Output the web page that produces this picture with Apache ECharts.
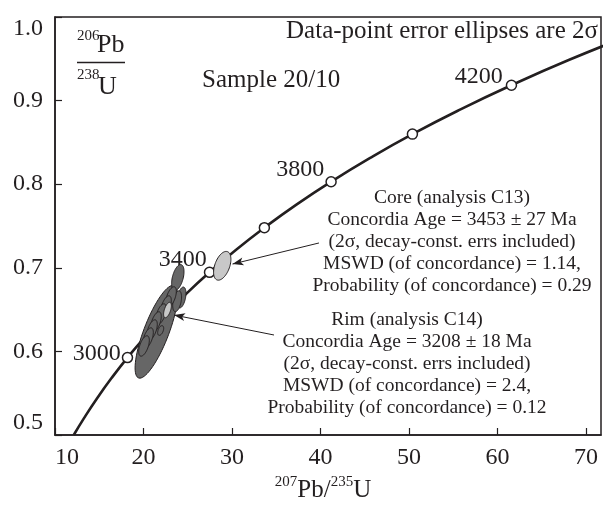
<!DOCTYPE html>
<html>
<head>
<meta charset="utf-8">
<script src="https://cdn.jsdelivr.net/npm/echarts@6/dist/echarts.min.js"></script>
<style>
html, body { margin: 0; padding: 0; background: #fff; }
#chart { width: 603px; height: 505px; }
</style>
</head>
<body>
<div id="chart"></div>
<script>
// concordia curve, points
var curveX = [12.12, 13.28, 14.76, 16.39, 18.19, 20.18, 22.37, 24.79, 27.46, 30.40, 33.66, 37.24, 41.20, 45.57, 50.39, 55.71, 61.58, 68.05, 75.20];
var curveY = [0.5000, 0.5202, 0.5440, 0.5681, 0.5926, 0.6175, 0.6428, 0.6685, 0.6946, 0.7211, 0.7480, 0.7753, 0.8030, 0.8312, 0.8599, 0.8889, 0.9184, 0.9485, 0.9789];

// age marks on the curve (Ma)
var markAges = [3000, 3200, 3400, 3600, 3800, 4000, 4200];
var markX = [18.19, 22.37, 27.46, 33.66, 41.20, 50.39, 61.58];
var markY = [0.5926, 0.6428, 0.6946, 0.7480, 0.8030, 0.8599, 0.9184];

// error ellipses: centre x, centre y, half width x, half height y, rho
var ellBig = [[21.45, 0.6235, 2.40, 0.0555, 0.78]];
var ellDark = [
    [23.88, 0.6884, 0.70, 0.0155, 0.45],
    [24.30, 0.6645, 0.50, 0.0125, 0.4],
    [23.80, 0.6600, 0.50, 0.0125, 0.4],
    [23.11, 0.6651, 0.60, 0.0122, 0.55],
    [22.54, 0.6543, 0.60, 0.0122, 0.55],
    [21.98, 0.6447, 0.60, 0.0122, 0.55],
    [21.41, 0.6352, 0.60, 0.0122, 0.55],
    [20.96, 0.6256, 0.60, 0.0122, 0.55],
    [20.51, 0.6160, 0.60, 0.0122, 0.55],
    [20.06, 0.6065, 0.60, 0.0122, 0.55],
    [21.94, 0.6250, 0.34, 0.0058, 0.45]
];
var ellLight = [
    [22.71, 0.6495, 0.44, 0.0092, 0.55],
    [28.90, 0.7024, 0.98, 0.0172, 0.45]
];

// arrows: [tail, head]
var arrowCore = [[39.83, 0.7297], [30.06, 0.7045]];
var arrowRim = [[34.75, 0.6196], [23.45, 0.6435]];

var xTicks = [10, 20, 30, 40, 50, 60, 70];

var ink = '#231f20';
var serif = 'Liberation Serif, Times New Roman, serif';

var labelPos = {
    3000: { distance: 1, offset: [0, -4] },
    3400: { distance: 0, offset: [3, -13] },
    3800: { distance: 1, offset: [0, -12] },
    4200: { distance: 3, offset: [0, -9] }
};

function ellipseItem(fill) {
    return function (params, api) {
        var cx = api.value(0), cy = api.value(1);
        var sx = api.value(2), sy = api.value(3), r = api.value(4);
        var pts = [];
        for (var i = 0; i < 72; i++) {
            var t = i / 72 * Math.PI * 2;
            pts.push(api.coord([cx + sx * Math.cos(t),
                cy + sy * (r * Math.cos(t) + Math.sqrt(1 - r * r) * Math.sin(t))]));
        }
        return {
            type: 'polygon',
            shape: { points: pts },
            style: { fill: fill, stroke: ink, lineWidth: 1 }
        };
    };
}

function ellSeries(data, fill, z) {
    return {
        type: 'custom',
        renderItem: ellipseItem(fill),
        data: data,
        encode: { x: 0, y: 1 },
        z: z,
        silent: true
    };
}

var marks = [];
for (var i = 0; i < markAges.length; i++) {
    var p = labelPos[markAges[i]];
    marks.push({
        value: [markX[i], markY[i]],
        label: p ? {
            show: true, position: 'left', distance: p.distance, offset: p.offset,
            formatter: String(markAges[i]), fontFamily: serif, fontSize: 24, color: ink
        } : { show: false }
    });
}

var curve = [];
for (var j = 0; j < curveX.length; j++) curve.push([curveX[j], curveY[j]]);

var chart = echarts.init(document.getElementById('chart'), null, { renderer: 'canvas' });
chart.setOption({
    animation: false,
    grid: {
        left: 55, right: 2, top: 17, bottom: 70,
        show: true, borderColor: ink, borderWidth: 1.5, backgroundColor: 'transparent'
    },
    xAxis: {
        type: 'value', min: 10, max: 71.7, interval: 10,
        axisLine: { show: true, lineStyle: { color: ink, width: 1.5 } },
        axisTick: { show: true, inside: true, length: 7, lineStyle: { color: ink, width: 1.2 } },
        splitLine: { show: false },
        axisLabel: {
            margin: 11, fontFamily: serif, fontSize: 24, color: ink,
            alignMinLabel: 'left', showMaxLabel: false,
            formatter: function (v) { return xTicks.indexOf(Math.round(v)) >= 0 && Math.abs(v - Math.round(v)) < 1e-6 ? String(Math.round(v)) : ''; }
        }
    },
    yAxis: {
        type: 'value', min: 0.5, max: 1.0, interval: 0.1,
        axisLine: { show: true, lineStyle: { color: ink, width: 1.5 } },
        axisTick: { show: true, inside: true, length: 7, lineStyle: { color: ink, width: 1.2 } },
        splitLine: { show: false },
        axisLabel: {
            margin: 12, fontFamily: serif, fontSize: 24, color: ink,
            verticalAlignMinLabel: 'bottom', verticalAlignMaxLabel: 'top',
            formatter: function (v) { return v.toFixed(1); }
        }
    },
    series: [
        {
            type: 'line', data: curve, smooth: true, showSymbol: false, z: 2,
            lineStyle: { color: ink, width: 2.6 },
            silent: true,
            markLine: {
                silent: true, symbol: ['none', 'arrow'], symbolSize: [6, 11],
                label: { show: false },
                lineStyle: { color: ink, width: 1, type: 'solid' },
                data: [
                    [{ coord: arrowCore[0] }, { coord: arrowCore[1] }],
                    [{ coord: arrowRim[0] }, { coord: arrowRim[1] }]
                ]
            }
        },
        {
            type: 'scatter', data: marks, symbol: 'circle', symbolSize: 10, z: 3,
            itemStyle: { color: '#fff', borderColor: ink, borderWidth: 1.5, opacity: 1 },
            silent: true
        },
        ellSeries(ellBig, '#666666', 4),
        ellSeries(ellDark, '#666666', 5),
        ellSeries(ellLight, '#c8c8c8', 6)
    ],
    graphic: [
        { type: 'text', x: 598, y: 31, style: { text: 'Data-point error ellipses are 2σ', font: '25px ' + serif, fill: ink, align: 'right', verticalAlign: 'middle', textAlign: 'right', textVerticalAlign: 'middle' } },
        { type: 'text', x: 202, y: 80, style: { text: 'Sample 20/10', font: '25px ' + serif, fill: ink, align: 'left', verticalAlign: 'middle', textAlign: 'left', textVerticalAlign: 'middle' } },
        { type: 'text', x: 77, y: 36, style: { text: '206', font: '15px ' + serif, fill: ink, align: 'left', verticalAlign: 'middle', textAlign: 'left', textVerticalAlign: 'middle' } },
        { type: 'text', x: 97, y: 45, style: { text: 'Pb', font: '26px ' + serif, fill: ink, align: 'left', verticalAlign: 'middle', textAlign: 'left', textVerticalAlign: 'middle' } },
        { type: 'line', shape: { x1: 77, y1: 62.5, x2: 125, y2: 62.5 }, style: { stroke: ink, lineWidth: 1.5 } },
        { type: 'text', x: 77, y: 75, style: { text: '238', font: '15px ' + serif, fill: ink, align: 'left', verticalAlign: 'middle', textAlign: 'left', textVerticalAlign: 'middle' } },
        { type: 'text', x: 98, y: 87, style: { text: 'U', font: '26px ' + serif, fill: ink, align: 'left', verticalAlign: 'middle', textAlign: 'left', textVerticalAlign: 'middle' } },
        {
            type: 'text', x: 323, y: 489,
            style: {
                text: '{s|207}{b|Pb/}{s|235}{b|U}', align: 'center', verticalAlign: 'middle', textAlign: 'center', textVerticalAlign: 'middle',
                fill: ink,
                rich: {
                    s: { fontFamily: serif, fontSize: 15, color: ink, fill: ink, verticalAlign: 'top', lineHeight: 28 },
                    b: { fontFamily: serif, fontSize: 25, color: ink, fill: ink, verticalAlign: 'bottom', lineHeight: 28 }
                }
            }
        },
        {
            type: 'text', x: 452, y: 187,
            style: {
                text: 'Core (analysis C13)\nConcordia Age = 3453 ± 27 Ma\n(2σ, decay-const. errs included)\nMSWD (of concordance) = 1.14,\nProbability (of concordance) = 0.29',
                font: '19.5px ' + serif, lineHeight: 22, fill: ink, align: 'center', verticalAlign: 'top', textAlign: 'center', textVerticalAlign: 'top'
            }
        },
        {
            type: 'text', x: 407, y: 309,
            style: {
                text: 'Rim (analysis C14)\nConcordia Age = 3208 ± 18 Ma\n(2σ, decay-const. errs included)\nMSWD (of concordance) = 2.4,\nProbability (of concordance) = 0.12',
                font: '19.5px ' + serif, lineHeight: 22, fill: ink, align: 'center', verticalAlign: 'top', textAlign: 'center', textVerticalAlign: 'top'
            }
        }
    ]
});
</script>
</body>
</html>
